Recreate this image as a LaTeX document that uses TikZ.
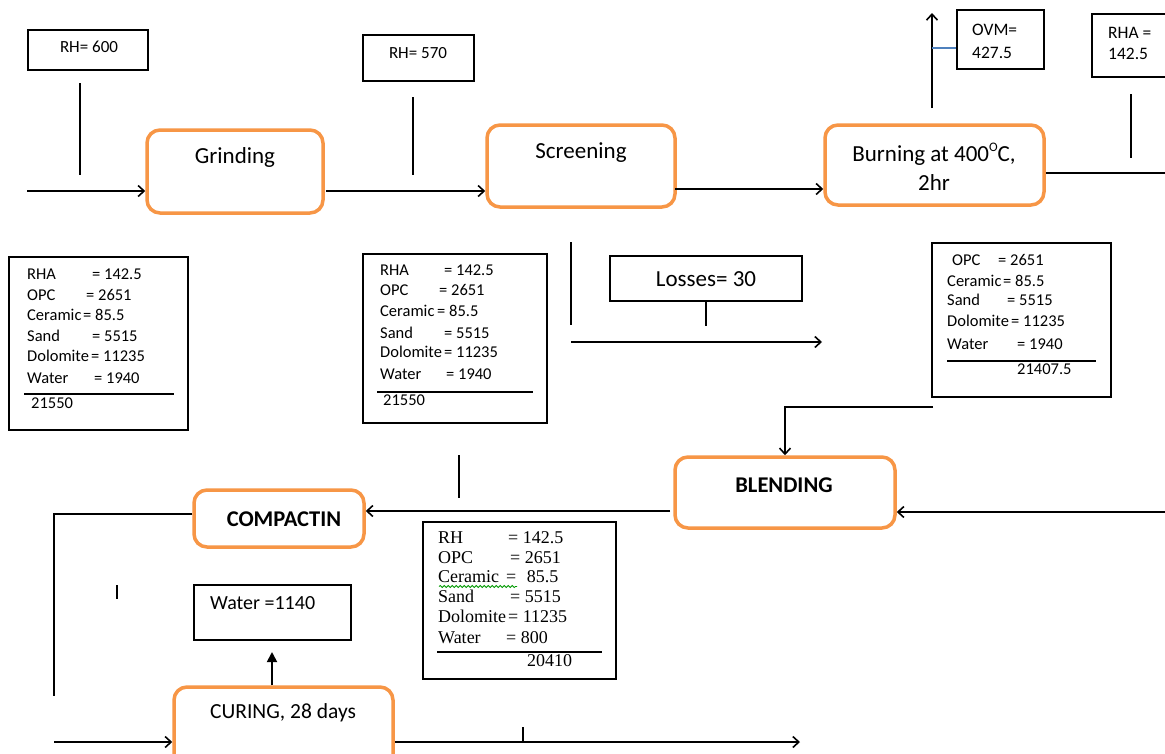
\documentclass[tikz,border=0pt]{standalone}
\usepackage{fontspec}
\setmainfont{Carlito}
\newfontfamily\tnr{Liberation Serif}
\usetikzlibrary{arrows.meta,decorations.pathmorphing}
\definecolor{wordorange}{HTML}{F79646}
\definecolor{wordblue}{HTML}{4F81BD}
\begin{document}
\begin{tikzpicture}[x=1pt,y=-1pt,
  proc/.style={draw=wordorange,line width=3.5pt,rounded corners=13pt,fill=white,inner sep=0pt},
  plainbox/.style={draw=black,line width=1.6pt,inner sep=0pt,fill=white},
  conn/.style={line width=1.8pt,black},
  arr/.style={conn,-{Straight Barb[length=6pt,width=11pt,line width=1.6pt]}},
  uparr/.style={conn,-{Triangle[length=10pt,width=10pt]}},
  ttl/.style={font=\fontsize{23}{27}\selectfont,inner sep=0pt,text=black},
  ttlb/.style={font=\fontsize{22.5}{27}\selectfont\bfseries,inner sep=0pt,text=black},
  small/.style={font=\fontsize{17}{20}\selectfont,inner sep=0pt,text=black},
  tb/.style={font=\fontsize{16.5}{19}\selectfont,inner sep=0pt,anchor=west,text height=0.68em,text depth=0.2em,text=black},
  tbs/.style={font=\fontsize{18}{21}\selectfont\tnr,inner sep=0pt,anchor=west,text height=0.66em,text depth=0.2em,text=black},
  rule/.style={line width=1.6pt,black}
]
\useasboundingbox (0,0) rectangle (1165,753);
\fill[white] (0,0) rectangle (1165,753);

% ---------- boxes ----------
\node[plainbox,minimum width=120pt,minimum height=40pt] (rh600) at (88,50) {};
\node[proc,minimum width=176pt,minimum height=83pt] (grind) at (235,171.5) {};
\node[plainbox,minimum width=111pt,minimum height=46pt] (rh570) at (418.5,58) {};
\node[proc,minimum width=188pt,minimum height=82pt] (screen) at (581,166) {};
\node[proc,minimum width=219pt,minimum height=80pt] (burn) at (934.5,165) {};
\node[plainbox,minimum width=87pt,minimum height=59pt] (ovm) at (1000.5,39.5) {};
\node[plainbox,minimum width=108pt,minimum height=63pt] (rha) at (1146,45.5) {};
\node[plainbox,minimum width=179pt,minimum height=173pt] (tab1) at (98.5,343.5) {};
\node[plainbox,minimum width=184pt,minimum height=169pt] (tab2) at (455,338.5) {};
\node[plainbox,minimum width=192pt,minimum height=45pt] (loss) at (706,278.5) {};
\node[plainbox,minimum width=179pt,minimum height=154pt] (tab3) at (1021.5,320) {};
\node[proc,minimum width=220pt,minimum height=71pt] (blend) at (785,492.5) {};
\node[proc,minimum width=170pt,minimum height=57pt] (compact) at (279,518.5) {};
\node[plainbox,minimum width=157pt,minimum height=55pt] (water) at (272.5,612.5) {};
\node[plainbox,minimum width=193pt,minimum height=157pt] (tab4) at (519.5,600.5) {};
\node[proc,minimum width=219pt,minimum height=113pt] (curing) at (283.5,743.5) {};

% ---------- box texts ----------
\node[small] (trh600) at (89,47) {RH= 600};
\node[small] (trh570) at (418,53) {RH= 570};
\node[ttl] (tgrind) at (235,157) {Grinding};
\node[ttl] (tscreen) at (581,153) {Screening};
\node[ttl] (tburn1) at (934,154) {Burning at 400\raisebox{0.42em}{\fontsize{13}{13}\selectfont O}C,};
\node[ttl] (tburn2) at (934,183) {2hr};
\node[small,anchor=west,font=\fontsize{17.5}{20}\selectfont] (tovm1) at (972,30) {OVM=};
\node[small,anchor=west,font=\fontsize{17.5}{20}\selectfont] (tovm2) at (972,53) {427.5};
\node[small,anchor=west,font=\fontsize{17.5}{20}\selectfont] (trha1) at (1108,33) {RHA =};
\node[small,anchor=west,font=\fontsize{17.5}{20}\selectfont] (trha2) at (1108,54) {142.5};
\node[ttl] (tloss) at (706,279) {Losses= 30};
\node[ttlb] (tblend) at (784,485) {BLENDING};
\node[ttlb] (tcompact) at (284,519) {COMPACTIN};
\node[ttl,anchor=west,font=\fontsize{20}{24}\selectfont] (twater) at (210,603) {Water =1140};
\node[ttl,font=\fontsize{21.5}{25}\selectfont] (tcuring) at (283,713) {CURING, 28 days};

% ---------- table 1 ----------
\node[tb] (a1) at (27,277) {RHA};      \node[tb] (a1v) at (92,277) {= 142.5};
\node[tb] (a2) at (27,298) {OPC};      \node[tb] (a2v) at (86,298) {= 2651};
\node[tb] (a3) at (27,318) {Ceramic};  \node[tb] (a3v) at (83,318) {= 85.5};
\node[tb] (a4) at (27,339) {Sand};     \node[tb] (a4v) at (92,339) {= 5515};
\node[tb] (a5) at (27,359) {Dolomite}; \node[tb] (a5v) at (91,359) {= 11235};
\node[tb] (a6) at (27,381) {Water};    \node[tb] (a6v) at (94,381) {= 1940};
\draw[rule] (24,394) -- (174,394);
\node[tb] (a7) at (31,406) {21550};

% ---------- table 2 ----------
\node[tb] (b1) at (380,273) {RHA};      \node[tb] (b1v) at (444,273) {= 142.5};
\node[tb] (b2) at (380,293) {OPC};      \node[tb] (b2v) at (439,293) {= 2651};
\node[tb] (b3) at (380,314) {Ceramic};  \node[tb] (b3v) at (437,314) {= 85.5};
\node[tb] (b4) at (380,336) {Sand};     \node[tb] (b4v) at (444,336) {= 5515};
\node[tb] (b5) at (380,355) {Dolomite}; \node[tb] (b5v) at (444,355) {= 11235};
\node[tb] (b6) at (380,377) {Water};    \node[tb] (b6v) at (446,377) {= 1940};
\draw[rule] (377,392) -- (533,392);
\node[tb] (b7) at (383,403) {21550};

% ---------- table 3 ----------
\node[tb] (c2) at (952,263) {OPC};      \node[tb] (c2v) at (998,263) {= 2651};
\node[tb] (c3) at (947,284) {Ceramic};  \node[tb] (c3v) at (1003,284) {= 85.5};
\node[tb] (c4) at (947,303) {Sand};     \node[tb] (c4v) at (1007,303) {= 5515};
\node[tb] (c5) at (947,324) {Dolomite}; \node[tb] (c5v) at (1011,324) {= 11235};
\node[tb] (c6) at (947,347) {Water};    \node[tb] (c6v) at (1017,347) {= 1940};
\draw[rule] (947,361) -- (1096,361);
\node[tb] (c7) at (1017,372) {21407.5};

% ---------- table 4 (serif) ----------
\node[tbs] (d1) at (438,541) {RH};       \node[tbs] (d1v) at (508,541) {= 142.5};
\node[tbs] (d2) at (438,561) {OPC};      \node[tbs] (d2v) at (510,561) {= 2651};
\node[tbs] (d3) at (438,580) {Ceramic};  \node[tbs] (d3v) at (506,580) {=\,\, 85.5};
\node[tbs] (d4) at (438,600) {Sand};     \node[tbs] (d4v) at (510,600) {= 5515};
\node[tbs] (d5) at (438,620) {Dolomite}; \node[tbs] (d5v) at (508,620) {= 11235};
\node[tbs] (d6) at (438,641) {Water};    \node[tbs] (d6v) at (506,641) {= 800};
\draw[rule] (437,652) -- (602,652);
\node[tbs] (d7) at (527,664) {20410};
\draw[green!60!black,line width=0.8pt,decorate,decoration={snake,amplitude=1pt,segment length=4pt}] (439,586.5) -- (517,586.5);

% ---------- named free ends ----------
\coordinate (in1) at (27,191);
\coordinate (v1a) at (80,83);   \coordinate (v1b) at (80,175);
\coordinate (g2s) at (326,191);
\coordinate (v2a) at (413,97);  \coordinate (v2b) at (413,175);
\coordinate (s2b) at (675,189);
\coordinate (upa) at (932,108); \coordinate (upb) at (932,13);
\coordinate (bl1) at (932,48);
\coordinate (bout) at (1170,173);
\coordinate (v3a) at (1131,94); \coordinate (v3b) at (1131,158);
\coordinate (v4a) at (571,242); \coordinate (v4b) at (571,325);
\coordinate (lossend) at (706,326);
\coordinate (ar1) at (571,342); \coordinate (ar2) at (822,342);
\coordinate (t3c) at (933,407);
\coordinate (rin) at (1170,512);
\coordinate (b2c) at (670,511);
\coordinate (v5a) at (459,455); \coordinate (v5b) at (459,498);
\coordinate (lc) at (54,696);
\coordinate (tk1) at (117,585); \coordinate (tk2) at (117,599);
\coordinate (wa) at (272,652);
\coordinate (cin) at (54,742);
\coordinate (cout) at (800,742);
\coordinate (tk3) at (523,727); \coordinate (tk4) at (523,742);

% ---------- connectors ----------
\draw[arr] (in1) -- (grind.west |- in1);
\draw[conn] (v1a) -- (v1b);
\draw[arr] (g2s) -- (screen.west |- g2s);
\draw[conn] (v2a) -- (v2b);
\draw[arr] (s2b) -- (burn.west |- s2b);
\draw[arr] (upa) -- (upb);
\draw[wordblue,line width=1.6pt] (bl1) -- (ovm.west |- bl1);
\draw[conn] (burn.east |- bout) -- (bout);
\draw[conn] (v3a) -- (v3b);
\draw[conn] (v4a) -- (v4b);
\draw[conn] (loss.south) -- (lossend);
\draw[arr] (ar1) -- (ar2);
\draw[arr] (t3c) -| (blend.north);
\draw[arr] (rin) -- (blend.east |- rin);
\draw[arr] (b2c) -- (compact.east |- b2c);
\draw[conn] (v5a) -- (v5b);
\draw[conn] (compact.west |- 0,514) -| (lc);
\draw[conn] (tk1) -- (tk2);
\draw[uparr] (curing.north -| wa) -- (wa);
\draw[arr] (cin) -- (curing.west |- cin);
\draw[arr] (curing.east |- cout) -- (cout);
\draw[conn] (tk3) -- (tk4);
\end{tikzpicture}
\end{document}
